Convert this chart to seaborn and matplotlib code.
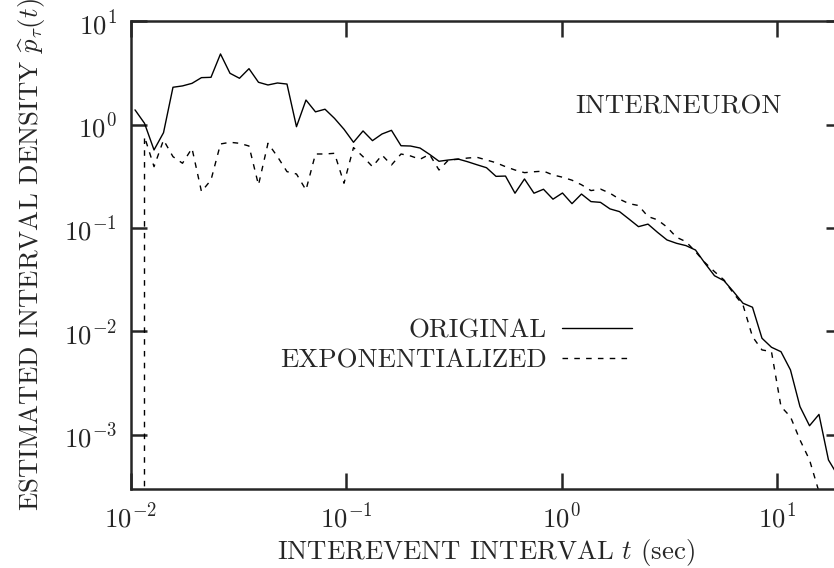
import numpy as np
import pandas as pd
import matplotlib
matplotlib.use("Agg")
import matplotlib.pyplot as plt
import seaborn as sns
from matplotlib.lines import Line2D

# ---- data (bin centres in seconds, densities) ----
interval = [0.01047, 0.01159, 0.01283, 0.01420, 0.01571, 0.01739, 0.01925, 0.02130,
            0.02358, 0.02610, 0.02889, 0.03197, 0.03539, 0.03917, 0.04335, 0.04798,
            0.05311, 0.05878, 0.06506, 0.07201, 0.07973, 0.08825, 0.09767, 0.1081,
            0.1197, 0.1324, 0.1466, 0.1622, 0.1796, 0.1988, 0.2200, 0.2435,
            0.2695, 0.2983, 0.3302, 0.3654, 0.4045, 0.4477, 0.4955, 0.5484,
            0.6070, 0.6718, 0.7436, 0.8230, 0.9109, 1.008, 1.116, 1.235,
            1.367, 1.513, 1.675, 1.854, 2.052, 2.271, 2.514, 2.782,
            3.080, 3.409, 3.773, 4.176, 4.622, 5.116, 5.662, 6.267,
            6.936, 7.677, 8.497, 9.404, 10.41, 11.52, 12.75, 14.12,
            15.62, 17.29, 19.14]

original = [1.39, 1.03, 0.569, 0.836, 2.30, 2.37, 2.51, 2.85,
            2.87, 4.83, 3.14, 2.81, 3.48, 2.57, 2.42, 2.53,
            2.47, 0.955, 1.73, 1.33, 1.41, 1.15, 0.902, 0.675,
            0.869, 0.700, 0.812, 0.881, 0.625, 0.621, 0.594, 0.516,
            0.442, 0.455, 0.465, 0.438, 0.409, 0.383, 0.316, 0.318,
            0.217, 0.298, 0.217, 0.237, 0.190, 0.218, 0.172, 0.213,
            0.180, 0.177, 0.153, 0.144, 0.122, 0.103, 0.109, 0.0908,
            0.0766, 0.0711, 0.0675, 0.0612, 0.0455, 0.0345, 0.0309, 0.0242,
            0.0187, 0.0171, 0.00857, 0.00701, 0.00635, 0.00423, 0.00187, 0.00122,
            0.00157, 0.000569, 0.00040]

exponentialized = [0.0, 0.764, 0.392, 0.710, 0.490, 0.423, 0.590, 0.225,
                   0.291, 0.650, 0.675, 0.660, 0.621, 0.261, 0.660, 0.490,
                   0.351, 0.333, 0.233, 0.520, 0.520, 0.528, 0.271, 0.600,
                   0.490, 0.392, 0.508, 0.407, 0.520, 0.498, 0.462, 0.516,
                   0.364, 0.455, 0.462, 0.475, 0.483, 0.455, 0.428, 0.392,
                   0.364, 0.343, 0.350, 0.355, 0.326, 0.310, 0.290, 0.262,
                   0.230, 0.238, 0.217, 0.190, 0.172, 0.165, 0.129, 0.120,
                   0.102, 0.0813, 0.0737, 0.0590, 0.0462, 0.0378, 0.0314, 0.0233,
                   0.0180, 0.00888, 0.00661, 0.00635, 0.00187, 0.00149, 0.00089, 0.00057,
                   0.00028, 0.00012, np.nan]

series_names = ["ORIGINAL", "EXPONENTIALIZED"]
xticks = [1e-2, 1e-1, 1e0, 1e1]
yticks = [1e-3, 1e-2, 1e-1, 1e0, 1e1]

# ---- style ----
sns.set_style("ticks")
plt.rcParams["font.family"] = ["cmr10", "DejaVu Serif"]
plt.rcParams["mathtext.fontset"] = "cm"
plt.rcParams["axes.formatter.use_mathtext"] = True
plt.rcParams["axes.unicode_minus"] = True

FS = 19.3

fig = plt.figure(figsize=(8.34, 5.68), dpi=100)
W, H = 834.0, 568.0
left_px, right_px, top_px, bot_px = 130.7, 842.1, 21.3, 488.7
ax = fig.add_axes([left_px / W, 1 - bot_px / H, (right_px - left_px) / W, (bot_px - top_px) / H])

df_o = pd.DataFrame({"t": interval, "p": original})
df_e = pd.DataFrame({"t": interval, "p": exponentialized})

sns.lineplot(data=df_o, x="t", y="p", ax=ax, color="black", lw=1.0,
             estimator=None, sort=False, legend=False)
sns.lineplot(data=df_e, x="t", y="p", ax=ax, color="black", lw=1.0,
             estimator=None, sort=False, legend=False, dashes=False)
ax.lines[1].set_dashes([4, 4.5])

ax.set_xscale("log")
ax.set_yscale("log")
ax.set_xlim(1e-2, 20)
ax.set_ylim(3e-4, 10)
ax.set_xticks(xticks)
ax.set_yticks(yticks)
ax.minorticks_off()

for s in ax.spines.values():
    s.set_linewidth(1.8)
    s.set_visible(True)
ax.tick_params(which="major", direction="in", length=11.5, width=1.8,
               top=True, right=True, labelsize=FS, pad=10)
ax.tick_params(axis="x", pad=10)

ax.set_xlabel(r"INTEREVENT INTERVAL $t$ (sec)", fontsize=FS, labelpad=3)
ax.set_ylabel(r"ESTIMATED INTERVAL DENSITY $\widehat{p}_\tau(t)$", fontsize=FS, labelpad=12)

ax.text(0.9155, 0.8166, "INTERNEURON", transform=ax.transAxes,
        ha="right", va="center", fontsize=FS)

handles = [Line2D([], [], color="black", lw=1.0),
           Line2D([], [], color="black", lw=1.0, dashes=[4, 4.5])]
ax.legend(handles, series_names, loc="center right", bbox_to_anchor=(0.704, 0.306),
          frameon=False, markerfirst=False, fontsize=FS, handlelength=2.6,
          handletextpad=0.56, labelspacing=0.22, borderpad=0, borderaxespad=0)

fig.savefig("out.png", dpi=100)
